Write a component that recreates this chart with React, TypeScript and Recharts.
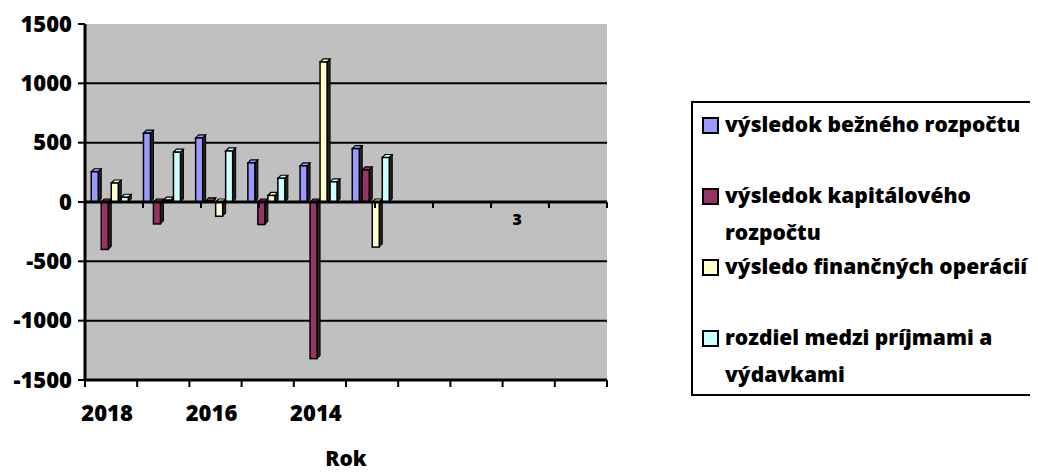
import React from 'react';
import {
  BarChart,
  Bar,
  XAxis,
  YAxis,
  CartesianGrid,
  ReferenceLine,
  ReferenceArea,
  ReferenceDot,
} from 'recharts';

// categories (Excel chart had 10 slots, only 6 filled)
const years = ['2018', '2017', '2016', '2015', '2014', '2013', '', '', '', ''];

const beznyRozpocet = [255, 580, 540, 330, 305, 450, null, null, null, null];
const kapitalovyRozpocet = [-400, -185, 10, -190, -1320, 270, null, null, null, null];
const financneOperacie = [160, 15, -120, 55, 1180, -380, null, null, null, null];
const rozdielPrijmyVydavky = [40, 420, 430, 200, 170, 375, null, null, null, null];

const yTicks = [-1500, -1000, -500, 0, 500, 1000, 1500];

const series = [
  { key: 'bezny', name: 'výsledok bežného rozpočtu', color: '#9999FF', values: beznyRozpocet },
  { key: 'kapital', name: 'výsledok kapitálového rozpočtu', color: '#993366', values: kapitalovyRozpocet },
  { key: 'financne', name: 'výsledo finančných operácií', color: '#FFFFCC', values: financneOperacie },
  { key: 'rozdiel', name: 'rozdiel medzi príjmami a výdavkami', color: '#CCFFFF', values: rozdielPrijmyVydavky },
];

const data = years.map((year, i) => {
  const row: Record<string, any> = { year };
  series.forEach((s) => {
    row[s.key] = s.values[i];
  });
  return row;
});

const boundaries = years.map((_, i) => i).concat([years.length]);

const FONT = '"Open Sans", Lato, sans-serif';
const WEIGHT = 800;

// fake 3D column like the old Excel charts
function Column3D(props: any) {
  const { x, y, width, height, fill } = props;
  if (height == null || width == null || !height) return null;
  const top = Math.min(y, y + height);
  const h = Math.abs(height);
  const d = 3;
  const w = width - d;
  return (
    <g>
      <polygon
        points={`${x + w},${top} ${x + w + d},${top - d} ${x + w + d},${top + h - d} ${x + w},${top + h}`}
        fill="#222"
        stroke="#000"
        strokeWidth={1}
      />
      <polygon
        points={`${x},${top} ${x + d},${top - d} ${x + w + d},${top - d} ${x + w},${top}`}
        fill={fill}
        stroke="#000"
        strokeWidth={1.2}
      />
      <rect x={x} y={top} width={w} height={h} fill={fill} stroke="#000" strokeWidth={1.5} />
    </g>
  );
}

function YearTick(props: any) {
  const { x, y, payload } = props;
  const half = payload.offset || 26;
  const axisY = y - 6;
  const idx = payload.index;
  return (
    <g>
      <line x1={x - half} x2={x - half} y1={axisY} y2={axisY + 7} stroke="#000" strokeWidth={2} />
      {idx === years.length - 1 && (
        <line x1={x + half} x2={x + half} y1={axisY} y2={axisY + 7} stroke="#000" strokeWidth={2} />
      )}
      {idx % 2 === 0 && (
        <text
          x={x - 4}
          y={axisY + 41}
          textAnchor="middle"
          fontFamily={FONT}
          fontWeight={WEIGHT}
          fontSize={22}
          fill="#000"
        >
          {payload.value}
        </text>
      )}
    </g>
  );
}

function LegendBox() {
  return (
    <div
      style={{
        position: 'absolute',
        left: 683,
        top: 93,
        width: 347,
        height: 295,
        borderLeft: '2px solid #000',
        borderTop: '2px solid #000',
        borderBottom: '2px solid #000',
        background: '#fff',
        boxSizing: 'border-box',
        overflow: 'hidden',
        paddingTop: 3,
        fontFamily: FONT,
        fontWeight: WEIGHT,
        fontSize: 21,
        lineHeight: '37px',
        color: '#000',
      }}
    >
      {series.map((s) => (
        <div key={s.key} style={{ display: 'flex', alignItems: 'flex-start', height: 71 }}>
          <span
            style={{
              display: 'inline-block',
              width: 13,
              height: 13,
              border: '2px solid #000',
              background: s.color,
              marginLeft: 9,
              marginTop: 11,
              marginRight: 6,
              flex: 'none',
            }}
          />
          <span style={{ width: 318, flex: 'none' }}>{s.name}</span>
        </div>
      ))}
    </div>
  );
}

export default function App() {
  return (
    <div style={{ position: 'relative', width: 1030, height: 464, fontFamily: FONT }}>
      <BarChart
        width={1030}
        height={464}
        data={data}
        margin={{ top: 16, right: 431, bottom: 4, left: 0 }}
        barCategoryGap="12%"
        barGap={0}
      >
        <CartesianGrid
          vertical={false}
          horizontalValues={[-1000, -500, 500, 1000]}
          stroke="#000"
          strokeWidth={2}
          fill="#C0C0C0"
          fillOpacity={1}
        />
        <XAxis xAxisId="b" type="number" domain={[0, years.length]} hide />
        <XAxis
          dataKey="year"
          interval={0}
          tickLine={false}
          tickSize={6}
          tickMargin={0}
          axisLine={{ stroke: '#000', strokeWidth: 3 }}
          height={88}
          tick={<YearTick />}
          label={{
            value: 'Rok',
            position: 'insideBottom',
            offset: 2,
            style: { fontFamily: FONT, fontWeight: WEIGHT, fontSize: 21, fill: '#000' },
          }}
        />
        <YAxis
          domain={[-1500, 1500]}
          ticks={yTicks}
          width={77}
          tickSize={7}
          tickMargin={6}
          axisLine={{ stroke: '#000', strokeWidth: 3 }}
          tickLine={{ stroke: '#000', strokeWidth: 2 }}
          tick={{ fontFamily: FONT, fontWeight: WEIGHT, fontSize: 22, fill: '#000' }}
        />
        <ReferenceArea
          xAxisId="b"
          x1={0}
          x2={years.length}
          y1={-1500}
          y2={1500}
          fill="none"
          stroke="#8c8c8c"
          strokeWidth={2}
        />
        {series.map((s) => (
          <Bar
            key={s.key}
            dataKey={s.key}
            name={s.name}
            fill={s.color}
            shape={<Column3D />}
            isAnimationActive={false}
          />
        ))}
        <ReferenceLine y={0} stroke="#000" strokeWidth={3} />
        {boundaries.map((b) => (
          <ReferenceLine
            key={b}
            xAxisId="b"
            stroke="#000"
            strokeWidth={2}
            segment={[
              { x: b, y: 0 },
              { x: b, y: -50 },
            ]}
          />
        ))}
        <ReferenceDot
          xAxisId="b"
          x={7.45}
          y={-150}
          r={0}
          fill="none"
          stroke="none"
          label={{
            value: '3',
            position: 'center',
            style: { fontFamily: FONT, fontWeight: WEIGHT, fontSize: 16, fill: '#000' },
          }}
        />
      </BarChart>
      <LegendBox />
    </div>
  );
}
